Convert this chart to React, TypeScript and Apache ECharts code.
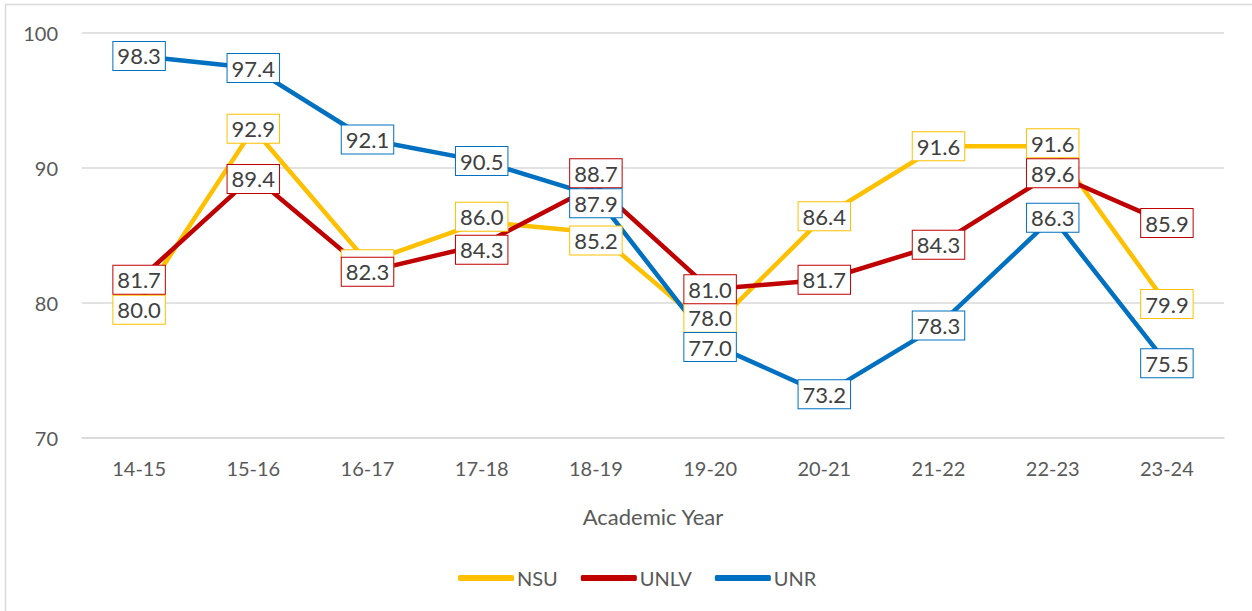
import React, { useEffect, useRef } from "react";
import * as echarts from "echarts";

const categories = ["14-15", "15-16", "16-17", "17-18", "18-19", "19-20", "20-21", "21-22", "22-23", "23-24"];
const nsu = [80.0, 92.9, 83.0, 86.0, 85.2, 78.0, 86.4, 91.6, 91.6, 79.9];
const unlv = [81.7, 89.4, 82.3, 84.3, 88.7, 81.0, 81.7, 84.3, 89.6, 85.9];
const unr = [98.3, 97.4, 92.1, 90.5, 87.9, 77.0, 73.2, 78.3, 86.3, 75.5];
const seriesNames = ["NSU", "UNLV", "UNR"];
const yTicks = { min: 70, max: 100, interval: 10 };

// label vertical nudges (pixels), as the labels were moved in the original
const nsuLabelDy = [7, 0, 2, -5, 8, -12, 0, 0, -3, 0];
const unlvLabelDy = [0, 3, 0, 5, -12, 0, 0, 0, 0, 0];
const unrLabelDy = [0, 0, 0, 0, 7, 4, 0, 0, 0, 0];

const colors = ["#FFC000", "#C00000", "#0070C0"];
const FONT = "Lato";

function buildSeries(name: string, values: number[], dys: number[], color: string) {
  return {
    name,
    type: "line",
    data: values.map((v, i) => ({
      value: v,
      label: { offset: [0, dys[i]] },
    })),
    symbol: "circle",
    symbolSize: 1,
    showSymbol: true,
    showAllSymbol: true,
    lineStyle: { color, width: 4.5, cap: "round", join: "round" },
    itemStyle: { color },
    label: {
      show: true,
      position: "inside",
      formatter: (p: any) => Number(p.value).toFixed(1),
      fontFamily: FONT,
      fontSize: 22,
      color: "#404040",
      backgroundColor: "#ffffff",
      borderColor: color,
      borderWidth: 1,
      padding: [2, 4, 1, 4],
      lineHeight: 25,
    },
    emphasis: { disabled: true },
  };
}

export default function App() {
  const ref = useRef<HTMLDivElement>(null);
  useEffect(() => {
    if (!ref.current) return;
    const chart = echarts.init(ref.current, null, { renderer: "svg" });
    chart.setOption({
      animation: false,
      backgroundColor: "#ffffff",
      textStyle: { fontFamily: FONT },
      graphic: [
        {
          type: "rect",
          shape: { x: 5.5, y: 4.5, width: 2000, height: 2000 },
          style: { fill: "none", stroke: "#D9D9D9", lineWidth: 1.5 },
          silent: true,
        },
      ],
      grid: { left: 82, right: 28, top: 33, bottom: 173.5 },
      legend: {
        data: seriesNames,
        left: 453,
        top: 563,
        icon: "roundRect",
        itemWidth: 56,
        itemHeight: 6,
        itemGap: 23,
        textStyle: { fontFamily: FONT, fontSize: 20, color: "#595959", padding: [0, 0, 0, -2] },
      },
      xAxis: {
        type: "category",
        data: categories,
        boundaryGap: true,
        name: "Academic Year",
        nameLocation: "middle",
        nameGap: 68,
        nameTextStyle: { fontFamily: FONT, fontSize: 22, color: "#595959" },
        axisLine: { show: true, lineStyle: { color: "#D9D9D9", width: 1.5 } },
        axisTick: { show: false },
        axisLabel: { fontFamily: FONT, fontSize: 20, color: "#595959", margin: 20 },
      },
      yAxis: {
        type: "value",
        min: yTicks.min,
        max: yTicks.max,
        interval: yTicks.interval,
        axisLine: { show: false },
        axisTick: { show: false },
        axisLabel: { fontFamily: FONT, fontSize: 20, color: "#595959", margin: 24 },
        splitLine: { lineStyle: { color: "#D9D9D9", width: 1.5 } },
      },
      series: [
        buildSeries(seriesNames[0], nsu, nsuLabelDy, colors[0]),
        buildSeries(seriesNames[1], unlv, unlvLabelDy, colors[1]),
        buildSeries(seriesNames[2], unr, unrLabelDy, colors[2]),
      ],
    });
    return () => chart.dispose();
  }, []);
  return (
    <div
      ref={ref}
      style={{ position: "fixed", left: 0, top: 0, width: 1252, height: 611 }}
    />
  );
}
